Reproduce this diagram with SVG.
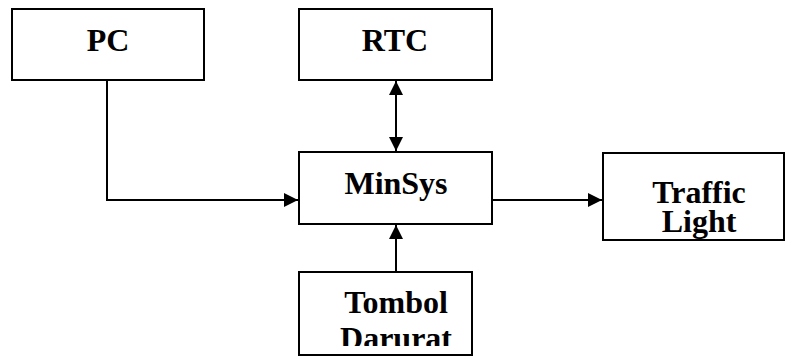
<svg xmlns="http://www.w3.org/2000/svg" width="785" height="361" viewBox="0 0 785 361">
<style>
.box{fill:#fff;stroke:#000;stroke-width:2}
.lbl{font-family:"Liberation Serif","Times New Roman",serif;font-weight:bold;font-size:32px;fill:#000;text-anchor:middle}
.con{fill:none;stroke:#000;stroke-width:2}
</style>
<defs>
<marker id="ah" viewBox="0 0 14 14" refX="14" refY="7" markerWidth="14" markerHeight="14" markerUnits="userSpaceOnUse" orient="auto-start-reverse">
<path d="M0,0 L14,7 L0,14 Z" fill="#000"/>
</marker>
<clipPath id="clipT"><rect x="300" y="273" width="171" height="73"/></clipPath>
</defs>
<rect width="785" height="361" fill="#fff"/>
<g id="connectors">
<polyline class="con" points="107,80 107,200 298,200" marker-end="url(#ah)"/>
<line class="con" x1="396" y1="81" x2="396" y2="151" marker-start="url(#ah)" marker-end="url(#ah)"/>
<line class="con" x1="396" y1="272" x2="396" y2="225" marker-end="url(#ah)"/>
<line class="con" x1="492" y1="200" x2="602" y2="200" marker-end="url(#ah)"/>
</g>
<g id="pc">
<rect class="box" x="12" y="9" width="192" height="71"/>
<text class="lbl" x="108" y="51">PC</text>
</g>
<g id="rtc">
<rect class="box" x="299" y="9" width="193" height="71"/>
<text class="lbl" x="395" y="51">RTC</text>
</g>
<g id="minsys">
<rect class="box" x="299" y="152" width="193" height="72"/>
<text class="lbl" x="396" y="194">MinSys</text>
</g>
<g id="traffic">
<rect class="box" x="603" y="153" width="181" height="87"/>
<text class="lbl" x="699" y="203">Traffic</text>
<text class="lbl" x="699" y="232">Light</text>
</g>
<g id="tombol">
<rect class="box" x="299" y="272" width="173" height="83"/>
<g clip-path="url(#clipT)">
<text class="lbl" x="396" y="313">Tombol</text>
<text class="lbl" x="396" y="349">Darurat</text>
</g>
</g>
</svg>
